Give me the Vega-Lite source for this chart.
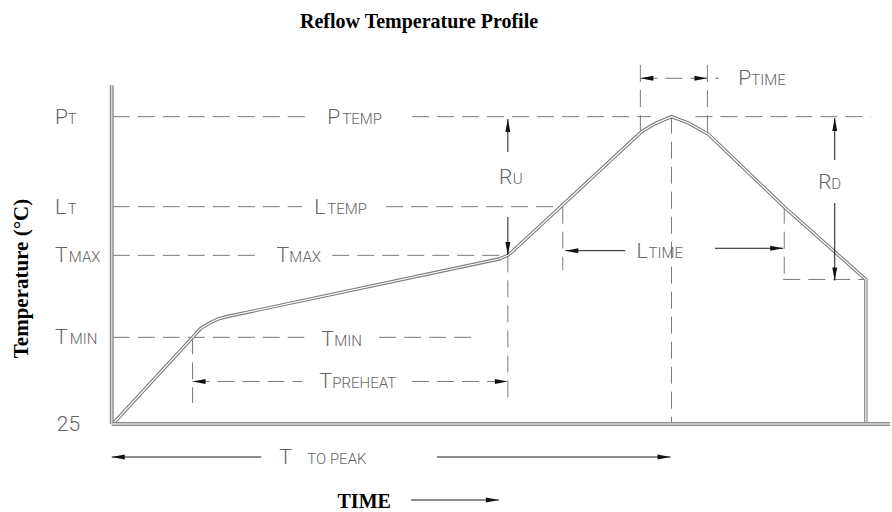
{
  "$schema": "https://vega.github.io/schema/vega-lite/v6.json",
  "width": 892,
  "height": 512,
  "autosize": {"type": "fit", "contains": "padding"},
  "padding": 0,
  "background": "white",
  "config": {"view": {"stroke": null}},
  "datasets": {
    "curve": [
      {"seq": 1, "t": 0, "temp": 25},
      {"seq": 2, "t": 40, "temp": 90},
      {"seq": 3, "t": 44, "temp": 96.5},
      {"seq": 4, "t": 48.5, "temp": 100.8},
      {"seq": 5, "t": 53, "temp": 103.8},
      {"seq": 6, "t": 58, "temp": 105.8},
      {"seq": 7, "t": 193.5, "temp": 148.75},
      {"seq": 8, "t": 198, "temp": 151.5},
      {"seq": 9, "t": 200, "temp": 154},
      {"seq": 10, "t": 265, "temp": 244.2},
      {"seq": 11, "t": 272, "temp": 250.5},
      {"seq": 12, "t": 280, "temp": 255.5},
      {"seq": 13, "t": 288.5, "temp": 250.8},
      {"seq": 14, "t": 298.5, "temp": 242.3},
      {"seq": 15, "t": 336.5, "temp": 187.75},
      {"seq": 16, "t": 377.4, "temp": 133.4},
      {"seq": 17, "t": 377.4, "temp": 25}
    ],
    "dashed": [
      {"t": 0, "t2": 97.5, "temp": 255.5, "temp2": 255.5},
      {"t": 150, "t2": 269.5, "temp": 255.5, "temp2": 255.5},
      {"t": 292, "t2": 380, "temp": 255.5, "temp2": 255.5},
      {"t": 0, "t2": 95, "temp": 188, "temp2": 188},
      {"t": 137, "t2": 225.5, "temp": 188, "temp2": 188},
      {"t": 0, "t2": 73.5, "temp": 151.5, "temp2": 151.5},
      {"t": 110, "t2": 198, "temp": 151.5, "temp2": 151.5},
      {"t": 0, "t2": 96, "temp": 90, "temp2": 90},
      {"t": 133.5, "t2": 182.5, "temp": 90, "temp2": 90},
      {"t": 40, "t2": 95, "temp": 56.9, "temp2": 56.9},
      {"t": 150, "t2": 198, "temp": 56.9, "temp2": 56.9},
      {"t": 336, "t2": 377.4, "temp": 133.4, "temp2": 133.4},
      {"t": 264.4, "t2": 303.8, "temp": 284.3, "temp2": 284.3},
      {"t": 40, "t2": 40, "temp": 90, "temp2": 40.75},
      {"t": 198, "t2": 198, "temp": 151.5, "temp2": 44.5},
      {"t": 225.5, "t2": 225.5, "temp": 188, "temp2": 140.5},
      {"t": 280, "t2": 280, "temp": 255.5, "temp2": 25},
      {"t": 336.5, "t2": 336.5, "temp": 188, "temp2": 133.4},
      {"t": 264.4, "t2": 264.4, "temp": 294.25, "temp2": 245.5},
      {"t": 298, "t2": 298, "temp": 294.25, "temp2": 243.25}
    ],
    "frame": [
      {"t": -0.5, "t2": -0.5, "temp": 279, "temp2": 25},
      {"t": -0.5, "t2": 389.5, "temp": 25, "temp2": 25}
    ],
    "shafts": [
      {"t": 198, "t2": 198, "temp": 253.75, "temp2": 229},
      {"t": 198, "t2": 198, "temp": 180.25, "temp2": 151.75},
      {"t": 361.8, "t2": 361.8, "temp": 254.5, "temp2": 223},
      {"t": 361.8, "t2": 361.8, "temp": 190.75, "temp2": 132.6},
      {"t": 226.8, "t2": 256.8, "temp": 155, "temp2": 155},
      {"t": 301.8, "t2": 336, "temp": 156.8, "temp2": 156.8},
      {"t": -0.5, "t2": 74.5, "temp": 0.25, "temp2": 0.25},
      {"t": 162.5, "t2": 279.5, "temp": 0.25, "temp2": 0.25},
      {"t": 149.5, "t2": 193.5, "temp": -32, "temp2": -32}
    ],
    "heads": [
      {"t": 40, "temp": 56.9, "dir": "left"},
      {"t": 198, "temp": 56.9, "dir": "right"},
      {"t": 198, "temp": 253.75, "dir": "up"},
      {"t": 198, "temp": 151.75, "dir": "down"},
      {"t": 361.8, "temp": 254.5, "dir": "up"},
      {"t": 361.8, "temp": 132.6, "dir": "down"},
      {"t": 226.8, "temp": 155, "dir": "left"},
      {"t": 336, "temp": 156.8, "dir": "right"},
      {"t": 264.4, "temp": 284.3, "dir": "left"},
      {"t": 298, "temp": 284.3, "dir": "right"},
      {"t": -0.5, "temp": 0.25, "dir": "left"},
      {"t": 279.5, "temp": 0.25, "dir": "right"},
      {"t": 193.5, "temp": -32, "dir": "right"}
    ],
    "capitals": [
      {"t": -29, "temp": 255.5, "label": "P"},
      {"t": -29, "temp": 188, "label": "L"},
      {"t": -29, "temp": 151.5, "label": "T"},
      {"t": -29, "temp": 90, "label": "T"},
      {"t": -28, "temp": 25, "label": "25"},
      {"t": 107.5, "temp": 255.5, "label": "P"},
      {"t": 101, "temp": 188, "label": "L"},
      {"t": 82, "temp": 151.5, "label": "T"},
      {"t": 104.5, "temp": 89, "label": "T"},
      {"t": 103.5, "temp": 56.9, "label": "T"},
      {"t": 193.5, "temp": 210.5, "label": "R"},
      {"t": 353.5, "temp": 206.7, "label": "R"},
      {"t": 262.5, "temp": 155, "label": "L"},
      {"t": 313.5, "temp": 284.3, "label": "P"},
      {"t": 83.5, "temp": 0.25, "label": "T"}
    ],
    "smallcaps": [
      {"t": -22.5, "temp": 255.5, "label": "T"},
      {"t": -22.5, "temp": 188, "label": "T"},
      {"t": -22, "temp": 151.5, "label": "MAX"},
      {"t": -21.5, "temp": 90, "label": "MIN"},
      {"t": 115, "temp": 255.5, "label": "TEMP"},
      {"t": 107.5, "temp": 188, "label": "TEMP"},
      {"t": 88.5, "temp": 151.5, "label": "MAX"},
      {"t": 111, "temp": 89, "label": "MIN"},
      {"t": 110, "temp": 56.9, "label": "PREHEAT"},
      {"t": 200.5, "temp": 210.5, "label": "U"},
      {"t": 360, "temp": 206.7, "label": "D"},
      {"t": 268.5, "temp": 155, "label": "TIME"},
      {"t": 320, "temp": 284.3, "label": "TIME"},
      {"t": 97.5, "temp": 0.25, "label": "TO PEAK"}
    ],
    "headings": [
      {"t": 153.5, "temp": 326.5, "label": "Reflow Temperature Profile"},
      {"t": 126, "temp": -33.5, "label": "TIME"}
    ],
    "axisTitle": [
      {"t": -45.5, "temp": 134.1, "label": "Temperature (°C)"}
    ]
  },
  "encoding": {
    "x": {"field": "t", "type": "quantitative", "scale": {"domain": [-56.5, 389.5], "nice": false, "zero": false}, "axis": null},
    "y": {"field": "temp", "type": "quantitative", "scale": {"domain": [-41, 343], "nice": false, "zero": false}, "axis": null}
  },
  "layer": [
    {
      "data": {"name": "dashed"},
      "mark": {"type": "rule", "strokeDash": [17, 8], "color": "#7a7a7a", "strokeWidth": 1},
      "encoding": {"x2": {"field": "t2"}, "y2": {"field": "temp2"}}
    },
    {
      "data": {"name": "curve"},
      "mark": {"type": "line", "color": "#7c7c7c", "strokeWidth": 3.4},
      "encoding": {"order": {"field": "seq"}}
    },
    {
      "data": {"name": "curve"},
      "mark": {"type": "line", "color": "white", "strokeWidth": 1.2},
      "encoding": {"order": {"field": "seq"}}
    },
    {
      "data": {"name": "frame"},
      "mark": {"type": "rule", "color": "#8c8c8c", "strokeWidth": 4},
      "encoding": {"x2": {"field": "t2"}, "y2": {"field": "temp2"}}
    },
    {
      "data": {"name": "frame"},
      "mark": {"type": "rule", "color": "#dcdcdc", "strokeWidth": 1.3},
      "encoding": {"x2": {"field": "t2"}, "y2": {"field": "temp2"}}
    },
    {
      "data": {"name": "shafts"},
      "mark": {"type": "rule", "color": "#1a1a1a", "strokeWidth": 1},
      "encoding": {"x2": {"field": "t2"}, "y2": {"field": "temp2"}}
    },
    {
      "data": {"name": "heads"},
      "mark": {"type": "point", "filled": true, "size": 676, "color": "#111111", "opacity": 1, "strokeWidth": 0},
      "encoding": {
        "shape": {
          "field": "dir",
          "type": "nominal",
          "scale": {
            "domain": ["left", "right", "up", "down"],
            "range": ["M0,0L1,-0.19L1,0.19Z", "M0,0L-1,-0.19L-1,0.19Z", "M0,0L-0.19,1L0.19,1Z", "M0,0L-0.19,-1L0.19,-1Z"]
          },
          "legend": null
        }
      }
    },
    {
      "data": {"name": "capitals"},
      "mark": {"type": "text", "align": "left", "baseline": "alphabetic", "dy": 7, "font": "Roboto", "fontWeight": 300, "fontSize": 21, "color": "#646464"},
      "encoding": {"text": {"field": "label"}}
    },
    {
      "data": {"name": "smallcaps"},
      "mark": {"type": "text", "align": "left", "baseline": "alphabetic", "dy": 7, "font": "Roboto", "fontWeight": 300, "fontSize": 15, "color": "#646464"},
      "encoding": {"text": {"field": "label"}}
    },
    {
      "data": {"name": "headings"},
      "mark": {"type": "text", "align": "center", "baseline": "middle", "font": "Liberation Serif", "fontWeight": "bold", "fontSize": 20, "color": "black"},
      "encoding": {"text": {"field": "label"}}
    },
    {
      "data": {"name": "axisTitle"},
      "mark": {"type": "text", "align": "center", "baseline": "middle", "angle": 270, "font": "Liberation Serif", "fontWeight": "bold", "fontSize": 21, "color": "black"},
      "encoding": {"text": {"field": "label"}}
    }
  ]
}
